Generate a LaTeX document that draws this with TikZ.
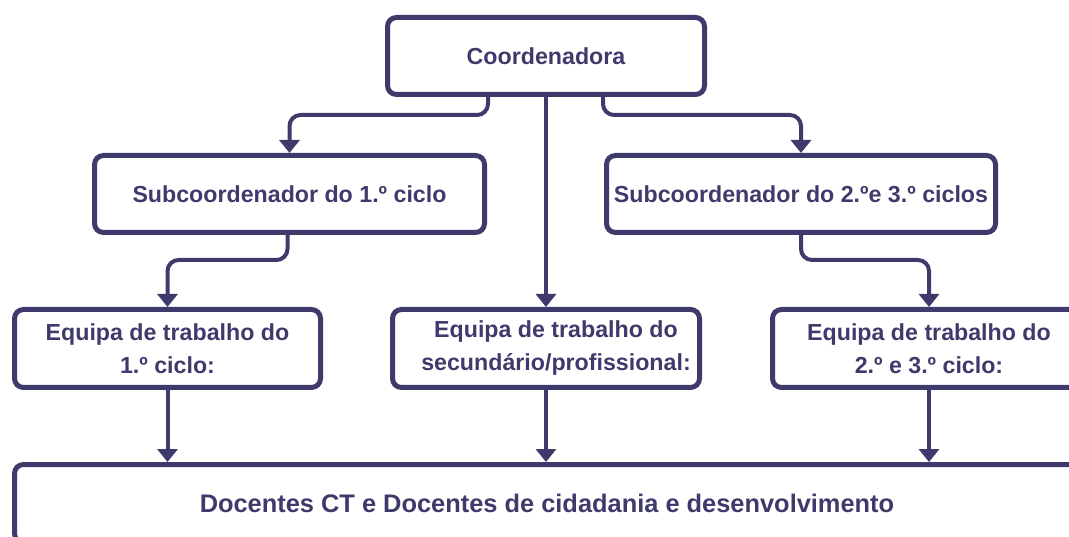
\documentclass[tikz,border=0pt]{standalone}
\usepackage{fontspec}
\setmainfont{Liberation Sans}
\usetikzlibrary{arrows.meta}
\definecolor{ink}{HTML}{3E3A6B}
\begin{document}
\begin{tikzpicture}[x=1pt,y=-1pt,
  box/.style={draw=ink, line width=5pt, rounded corners=9pt, inner sep=0pt,
    align=center, text=ink, font=\fontsize{23.2}{33}\selectfont\bfseries},
  big/.style={font=\fontsize{25.4}{33}\selectfont\bfseries},
  arr/.style={draw=ink, line width=4pt, rounded corners=11pt,
    -{Triangle[length=13pt,width=20pt]}}]
\useasboundingbox (0,0) rectangle (1069,537);
\node[box, minimum width=317pt, minimum height=77pt] (c) at (546,56) {Coordenadora};
\node[box, minimum width=390pt, minimum height=77pt] (s1) at (289.5,194) {Subcoordenador do 1.º ciclo};
\node[box, minimum width=389pt, minimum height=77pt] (s2) at (801,194) {Subcoordenador do 2.ºe 3.º ciclos};
\node[box, minimum width=306pt, minimum height=78pt] (e1) at (167.5,348.5) {Equipa de trabalho do\\1.º ciclo:};
\node[box, minimum width=307pt, minimum height=78pt] (e2) at (546,348.5) {\hspace*{20pt}Equipa de trabalho do\\\hspace*{20pt}secundário/profissional:};
\node[box, minimum width=313pt, minimum height=78pt] (e3) at (929,348.5) {Equipa de trabalho do\\2.º e 3.º ciclo:};
\node[box, big, minimum width=1065pt, minimum height=78pt] (b) at (547,503.5) {Docentes CT e Docentes de cidadania e desenvolvimento};
\draw[arr] ([xshift=-58pt]c.south) -- ++(0,18) -| (s1.north);
\draw[arr] ([xshift=57pt]c.south) -- ++(0,18) -| (s2.north);
\draw[arr] (c.south) -- (e2.north);
\draw[arr] ([xshift=-2pt]s1.south) -- ++(0,25) -| (e1.north);
\draw[arr] (s2.south) -- ++(0,25) -| (e3.north);
\draw[arr] (e1.south) -- (e1.south |- b.north);
\draw[arr] (e2.south) -- (e2.south |- b.north);
\draw[arr] (e3.south) -- (e3.south |- b.north);
\end{tikzpicture}
\end{document}
